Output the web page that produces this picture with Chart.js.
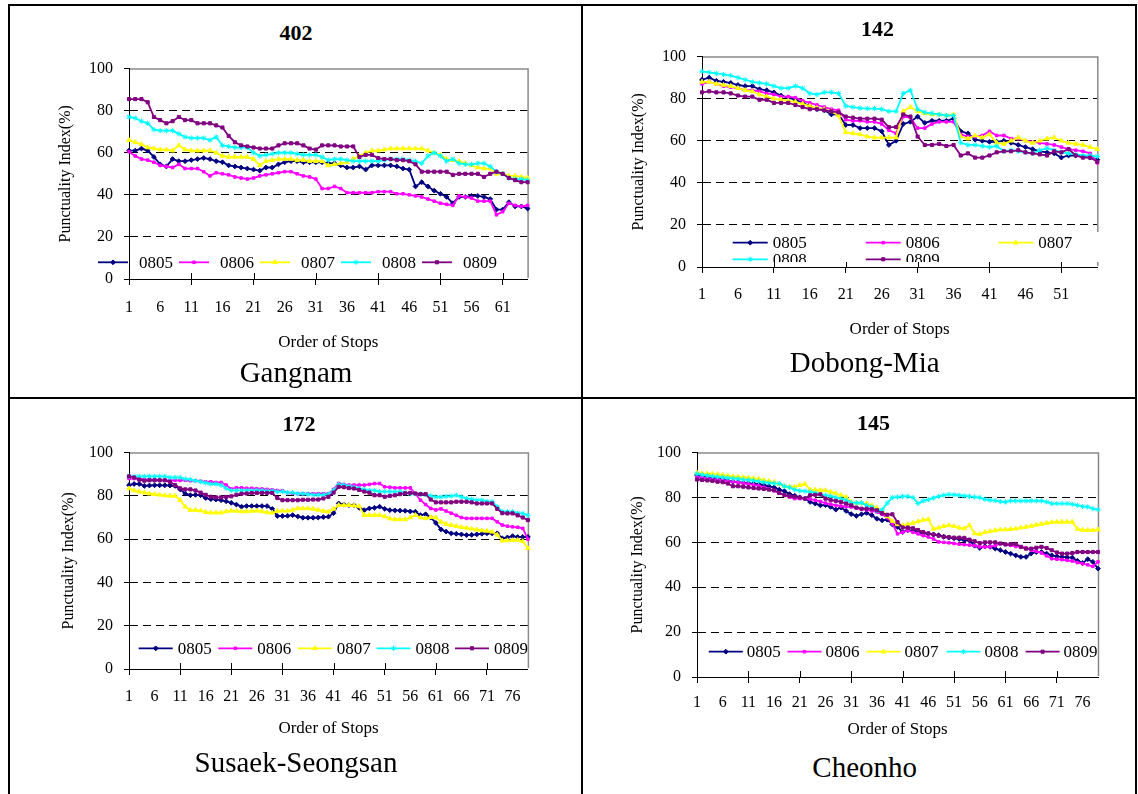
<!DOCTYPE html>
<html><head><meta charset="utf-8">
<script src="https://cdn.jsdelivr.net/npm/chart.js@4/dist/chart.umd.min.js"></script>
<style>
html,body{margin:0;padding:0;background:#fff;}
body{width:1138px;height:794px;position:relative;overflow:hidden;font-family:"Liberation Serif","Times New Roman",serif;}
.ln{position:absolute;background:#000;}
.lbl{position:absolute;transform:translate(-50%,-50%);white-space:nowrap;line-height:1;color:#000;}
.ttl{font-weight:bold;font-size:22px;}
.nm{font-size:29px;}
canvas{position:absolute;}
</style></head><body>
<div class="ln" style="left:8px;top:4px;width:1129px;height:2px"></div>
<div class="ln" style="left:8px;top:4px;width:2px;height:790px"></div>
<div class="ln" style="left:1135px;top:4px;width:2px;height:790px"></div>
<div class="ln" style="left:581px;top:4px;width:2px;height:790px"></div>
<div class="ln" style="left:8px;top:397px;width:1129px;height:2px"></div>
<script>
// ---------- DATA ----------
const SERIES_NAMES = ['0805','0806','0807','0808','0809'];
const Y_TICKS = [0,20,40,60,80,100];

// Route 402 (Gangnam), 65 stops
const STOPS_402 = 65;
const X_TICK_LABELS_402 = ['1','6','11','16','21','26','31','36','41','46','51','56','61'];
const p402_0805 = [61,61,62,61,58,54.5,53.5,57,56,56,56.5,57,57.5,57,56,55.5,54,53.5,53,52.5,52,51.5,53,53,54.5,55.5,56,56,55.5,55.5,55.5,55.5,55,55,54,53,53,53.5,52,54,54,54,54,53.5,52.5,52,44,46,44,42,40.5,39,36,39,39,39.5,39.5,39,38,33,33,36.5,34.5,34.5,33.5];
const p402_0806 = [60.5,58.5,57,56.5,55.5,54,53.5,53,54.5,52.5,52.5,52.5,51,49,50.5,50,49.5,48.5,48,47.5,48,49,49.5,50,50.5,51,51,50,49,48.5,47.5,43,43,44,43,41,41,41,41,41,41.5,41.5,41.5,40.5,40.5,40,39.5,39,38,37,36,35.5,35,39.5,39,38.5,37,37,37,30.5,32,36,35,34.5,35];
const p402_0807 = [66,65,64,62.5,62,61.5,61.5,61,63.5,61.5,61,61,61,61,60,58.5,58,58,58,58,57,54,56,56.5,57,57,57,56.5,56.5,56,56,56,54,54.5,55,55.5,57,58.5,60,61,61,61.5,62,62,62,62,62,62,61,60,59,57,56.5,56,55,54,53,52.5,52.5,50,50,49,49,48.5,48];
const p402_0808 = [77,76.5,75,74,71,70.5,70.5,70.5,69,67.5,67,67,67,66,67.5,63.5,63,62.5,62.5,62.5,60,58.5,59,59.5,60,60,60,59.5,59,59,59,58,56.5,57,57,56.5,56,56,56,56,56,56.5,57,57,57,56.5,56,55,58.5,60,58.5,56,57,55,54.5,54.5,55,55,53.5,51,50,48,47.5,47.5,47];
const p402_0809 = [85.5,85.5,85.5,84,77,75.5,74,75,77,75.5,75.5,74,74,74,73,72,68,65,63.5,63,62.5,62,62,62,63.5,64.5,64.5,64.5,63.5,62,61.5,63.5,63.5,63.5,63,63,63,58,59,59,57.5,57,57,56.5,56.5,56,54.5,51,51,51,51,51,49.5,50,50,50,50,48.5,50,51,50,48,47,46,46];

// Route 142 (Dobong-Mia), 56 stops
const STOPS_142 = 56;
const X_TICK_LABELS_142 = ['1','6','11','16','21','26','31','36','41','46','51',''];
const p142_0805 = [89,90,88.5,88,87.5,86.5,86,86,84.5,84,83,81.5,80.5,79.5,78,76.5,75,74.5,72.5,72.5,67.5,67.5,66,66,66,64.5,58,60,68,69,71.5,68.5,69.5,69.5,69.5,70.5,64.5,63.5,60.5,60,59.5,59.5,60,59,58,57,56,55,54.5,54,52,53,53,52.5,52,51];
const p142_0806 = [87,88,87,86,85.5,85,84,84,83.5,82.5,82,81,81,80.5,79,78,77,76,75,74.5,70,69.5,69.5,69,69,68,65,63.5,71.5,71,66,66,68,69,69,69,63,62,62,62.5,64.5,62.5,62.5,61,61,60,59.5,59,58.5,58,57,56,55.5,55,54,49.5];
const p142_0807 = [88,88,87,86.5,86,85,84,83.5,82,81,80,79.5,79,78.5,77.5,76.5,75.5,75,74,72,64,63.5,63,62,61.5,61.5,61.5,61.5,74,76,74,73,72.5,72.5,72,72.5,62,61,62.5,61.5,63,59,58.5,60,61.5,60,59,60,61,61.5,60,59,58.5,58,57,56];
const p142_0808 = [93,92.5,92,91.5,91,90,89,88,87.5,87,86,85,85,86,85,82.5,82,83,83,82.5,76.5,76,75.5,75.3,75.3,75,74,74,82.5,84,75,73.5,73,72.5,72,72,59,58,58,57.5,57,57.5,55,55.5,55,54.5,54,55.5,56.5,55.5,54.5,54,53.5,53,53,52.5];
const p142_0809 = [83,83.5,83,83,82.5,81.5,81,81,79.5,79.5,78,78,78,77,76,75,75,74.5,74,73.5,71.5,71,70.5,70.5,70.5,70,66.5,66.5,72.5,71.5,62,58,58,58.5,57.5,58,53,54,52,52,53,54.5,55,55,55.5,54.5,54,53.5,53,55,54.5,56,53,52,52,50];

// Route 172 (Susaek-Seongsan), 79 stops
const STOPS_172 = 79;
const X_TICK_LABELS_172 = ['1','6','11','16','21','26','31','36','41','46','51','56','61','66','71','76'];
const p172_0805 = [85,85.5,85.5,84.6,84.8,84.9,84.9,84.9,84.8,84.6,83,81,80.3,80.5,80.3,79,78.5,78.3,78,77.5,76.8,76,75,75.3,75.3,75.3,75.3,75.3,74,70.7,70.7,70.8,71.1,70.5,69.9,69.9,69.9,70,70.2,70.4,72,76.5,76,75.7,75.7,74.5,73.4,74.2,74.5,75,74,73.4,73.3,73.2,73.1,72.8,72.7,71.1,71.5,70,67.5,64.5,63.5,62.7,62.5,62.2,61.9,62,62.2,62.5,62.7,62.7,62.7,60.4,60.8,61.4,61,61,61.1];
const p172_0806 = [88,88,88,87.6,87.6,87.5,87.3,87.2,87.2,87.2,87.2,87.2,87,87,86.8,86.5,86.5,86.2,86.2,85,83.2,83.7,83.7,83.5,83.5,83.3,83.2,83,82.8,82.5,82.3,81.5,81.2,81,81,81,81,81,81,81,83,85.7,85.3,85,85,85,85,85.3,85.7,85.7,84.2,84,83.7,83.7,83.7,83.7,81,78,76,74.2,73.5,74,73,72,71,70,69.6,69.6,69.6,69.6,69.6,69.6,68,66.5,66,65.7,65.5,65,60];
const p172_0807 = [83.4,82.5,81.9,81.5,81,80.8,80.5,80.2,80,80,78,75,73.4,73.4,73.2,72.5,72.2,72.2,72.2,72.8,73.1,73,72.8,72.8,73,73.1,72.8,72.3,72.2,73,73.1,73.1,73.5,74.2,74.2,74.2,74,73.5,73,72.7,74,75.7,75.7,75.7,75.5,75.2,71.1,71.1,71.1,71.1,70.5,69.5,69.1,69.1,69.1,70,71.1,70,69.6,70.2,70,68,67,66.5,66,65.5,65.2,64.8,64.4,64,63.8,63.4,62,59.3,59.4,59.5,59.6,59,55.8];
const p172_0808 = [89,89,89,89,89,89,89,89,88.5,88.5,88.5,87.8,87.5,87,86.5,86,85.5,85.5,85,83.5,82.5,82.5,82.5,82.5,82.5,82.5,82.5,82.3,82.3,82,82,81.5,81.5,81,81,80.8,80.5,80.5,80.5,80.8,82.5,85.3,85,84.5,84,83.5,83,82.5,82.5,82,82,82,82,82,81.5,81,81,80.8,80.6,80,79.5,79.5,79.8,79.9,80.3,79.5,78.8,78.5,78,78,77.5,77.3,75,72.7,72.7,72.7,72,71.9,71];
const p172_0809 = [89,88.5,87.5,87,87.2,87.2,87.2,87.2,86.5,85,83.5,83,83,82.5,81.5,80.5,79.6,79.3,79.3,79.5,79.8,80.5,81,81.1,81.3,81.4,81.4,81.4,81.4,79,78,78,78,78,78.2,78.2,78.3,78.3,78.8,79.6,81.5,84.2,84,83.6,83.4,82.8,82,81.5,80.3,80.3,79.6,80,80.3,80.8,81.2,81.4,81.1,80.8,80.8,78.3,77,77,77,77,77.3,77.3,77.3,77,76.5,76.5,76.5,76.5,74,72,71.9,71.9,71,70,68.8];

// Route 145 (Cheonho), 79 stops
const STOPS_145 = 79;
const X_TICK_LABELS_145 = ['1','6','11','16','21','26','31','36','41','46','51','56','61','66','71','76'];
const p145_0805 = [90,89.5,89,88.6,88.4,88,87.5,87,86.9,86.5,86.3,86.2,86,85.5,85,84.5,83.5,82.8,81.5,80.8,80,79.5,78,77.3,76.5,76.6,75.8,74.6,75.5,74,72.6,71.8,72.5,73.1,72.1,70.5,69.8,70.1,68,66.9,64.6,65.4,65.2,64.6,64,63.8,63.5,63.2,62.5,62.1,61.8,61.5,60.9,60.8,58.5,57.5,58.2,58,57.2,56.5,55.7,55,54.2,53.5,53.5,55,55.7,55.7,55,54.2,53.8,53.5,53.3,53.2,51.8,50.8,52.5,51.3,48.3];
const p145_0806 = [89,88.8,88.5,88.1,88,87.7,87.3,87,86.8,86.4,86,85.6,85.2,84.5,83.8,83,82,81,80.2,79.5,79.5,79.5,79.3,78.8,78.2,77.5,77,76.5,76.2,75.9,75.8,75.3,74.8,74.5,74,73.5,72.5,71,68.4,63.8,64.5,65.2,64.5,63.8,63,62.4,61.5,60.2,60,59.8,59.5,59.2,59,58.8,58.5,58,58,58,58.5,59.4,59,58.7,58.2,58,57.5,56.5,56,55.3,54,52.7,52.5,52.3,52,51.7,51,50.5,50,49.3,51.3];
const p145_0807 = [91,90.7,90.6,90.5,90.3,90,89.7,89.4,89.2,89,88.8,88.5,88.2,87.7,87.3,86.9,86,85,84.8,84.7,85.5,86,83.5,83.4,83.3,83.2,82.5,81.8,81,80.2,78,77.6,77.4,77.3,76.5,75.3,74,71.6,69.5,68,67.6,68,68.6,69.3,70,70.3,66,66.5,67.2,67.6,67.2,66.5,66.2,67.6,64,63.6,64.5,64.9,65.3,65.7,65.7,65.9,66.1,66.5,66.9,67.3,67.8,68.2,68.6,69,69.1,69.1,69.1,69.1,66,65.5,65.4,65.4,65.7];
const p145_0808 = [90.6,90.1,89.8,89.5,89.2,89,88.7,88.5,88.3,88,87.8,87.5,87.2,86.8,86.5,86.3,86.2,85,84.5,83.5,83,82.8,82.5,82,81.3,81,80.6,80,79.5,78.8,77.8,77.6,77.6,76.5,75.8,74,74.5,77.5,80,80.2,80.5,80.5,80,77.3,78.5,79,79.8,80.5,81,81.4,81.2,81,80.7,80.5,80.2,80,79.2,78.8,78.6,78.2,78,78.5,78.5,78.5,78.5,78.5,78.5,78.5,78,77.3,77.3,77.3,77.3,77,76.5,76,75.8,75,74.6];
const p145_0809 = [88,87.8,87.6,87.4,87,86.8,86.2,85,85,84.8,84.5,84.2,84,83.8,83.5,83.2,82,81,80.6,80.3,80,79.5,81,81.2,81.4,79.5,78.8,78.5,78,77.3,76.5,75.5,75,75,74.8,74.3,73,72.3,72.5,69,66.6,66.6,66.3,65.5,64.6,64,63.5,63,62.5,62.3,62.1,62.1,62,61.2,60.5,59.7,60,60,60,59.5,59.1,59.2,59.3,58,57.2,57.2,57.6,58,57.5,56.5,55.5,55,55,55.2,55.7,55.7,55.7,55.7,55.7];

// ---------- STYLE / LAYOUT ----------
const FONT = '"Liberation Serif", "Times New Roman", serif';
const STYLES = [
  {color:'#000080', pointStyle:'rectRot', radius:2.4},
  {color:'#FF00FF', pointStyle:'rect', radius:1.8},
  {color:'#FFFF00', pointStyle:'triangle', radius:2.6},
  {color:'#00FFFF', pointStyle:'star', radius:2.6},
  {color:'#800080', pointStyle:'rect', radius:2.2}
];

function stopLabels(n){ const a=[]; for(let i=1;i<=n;i++) a.push(String(i)); return a; }

const PANELS = [
  {route:'402', name:'Gangnam', stops:STOPS_402, tickLabels:X_TICK_LABELS_402,
   series:[p402_0805,p402_0806,p402_0807,p402_0808,p402_0809],
   titlePos:[296,33.3], namePos:[296,371.7],
   box:{CL:10, CT:48, L:129, R:531, T:68, B:279, yTitleX:66, xTitleY:343, xLabelY:308},
   legend:{items:[[98,262.3],[179,262.3],[260,262.3],[341,262.3],[422,262.3]], lineLen:30, textOff:41}},
  {route:'142', name:'Dobong-Mia', stops:STOPS_142, tickLabels:X_TICK_LABELS_142,
   series:[p142_0805,p142_0806,p142_0807,p142_0808,p142_0809],
   titlePos:[877.5,29.3], namePos:[864.7,361.7],
   box:{CL:584, CT:36, L:702, R:1099, T:56, B:267, yTitleX:638.5, xTitleY:330, xLabelY:294.3},
   legend:{items:[[732.7,242.7],[865.7,242.7],[998.3,242.7],[732.7,259.3],[865.7,259.3]], lineLen:35, textOff:40,
           box:[727,232,375,30]}},
  {route:'172', name:'Susaek-Seongsan', stops:STOPS_172, tickLabels:X_TICK_LABELS_172,
   series:[p172_0805,p172_0806,p172_0807,p172_0808,p172_0809],
   titlePos:[299,424.3], namePos:[296,761.7],
   box:{CL:10, CT:432, L:129, R:530, T:452, B:669, yTitleX:69, xTitleY:728.3, xLabelY:696.7},
   legend:{items:[[138.7,648.3],[218.3,648.3],[297.8,648.3],[376.5,648.3],[455,648.3]], lineLen:34, textOff:39}},
  {route:'145', name:'Cheonho', stops:STOPS_145, tickLabels:X_TICK_LABELS_145,
   series:[p145_0805,p145_0806,p145_0807,p145_0808,p145_0809],
   titlePos:[873.6,423.3], namePos:[864.7,766.7],
   box:{CL:584, CT:432, L:697, R:1098, T:452, B:677, yTitleX:638, xTitleY:730, xLabelY:702.3},
   legend:{items:[[708.8,651.7],[787.5,651.7],[866.5,651.7],[946.5,651.7],[1025.6,651.7]], lineLen:34, textOff:38}}
];

// frame (grey top/right) + inner halves of x tick marks
const framePlugin = {
  id:'frame',
  beforeDatasetsDraw(chart){
    const {ctx, chartArea:a} = chart;
    ctx.save();
    ctx.strokeStyle = '#8a8a8a'; ctx.lineWidth = 1.5;
    ctx.beginPath();
    ctx.moveTo(a.left+1, a.top+0.5); ctx.lineTo(a.right+0.5, a.top+0.5); ctx.lineTo(a.right+0.5, a.bottom-1);
    ctx.stroke();
    const xs = chart.scales.x;
    ctx.strokeStyle = '#000'; ctx.lineWidth = 1;
    xs.ticks.forEach((t,i)=>{
      if (i % 10 === 0) {
        const px = Math.round(xs.getPixelForTick(i)) + 0.5;
        ctx.beginPath(); ctx.moveTo(px, a.bottom-6); ctx.lineTo(px, a.bottom); ctx.stroke();
      }
    });
    ctx.restore();
  }
};

const insideLegend = {
  id:'insideLegend',
  afterDatasetsDraw(chart, args, opts){
    if (!opts || !opts.items) return;
    const ctx = chart.ctx;
    const ox = opts.ox, oy = opts.oy;
    ctx.save();
    if (opts.box) {
      const b = opts.box;
      ctx.fillStyle = '#fff';
      ctx.fillRect(b[0]-ox, b[1]-oy, b[2], b[3]);
      ctx.beginPath(); ctx.rect(b[0]-ox, b[1]-oy, b[2], b[3]); ctx.clip();
    }
    chart.data.datasets.forEach((ds, i)=>{
      const [x, y] = opts.items[i];
      const lx = x - ox, ly = y - oy;
      ctx.strokeStyle = ds.borderColor; ctx.lineWidth = ds.borderWidth;
      ctx.beginPath(); ctx.moveTo(lx, ly); ctx.lineTo(lx + opts.lineLen, ly); ctx.stroke();
      ctx.fillStyle = ds.pointBackgroundColor; ctx.strokeStyle = ds.pointBorderColor; ctx.lineWidth = 1;
      Chart.helpers.drawPoint(ctx, {pointStyle:ds.pointStyle, radius:ds.pointRadius, borderWidth:1, rotation:0}, lx + opts.lineLen/2, ly);
      ctx.fillStyle = '#000';
      ctx.font = '17px ' + FONT;
      ctx.textBaseline = 'middle'; ctx.textAlign = 'left';
      ctx.fillText(ds.label, lx + opts.textOff, ly + 1);
    });
    ctx.restore();
  }
};

function addLabel(text, pos, cls){
  const d = document.createElement('div');
  d.className = 'lbl ' + cls;
  d.style.left = pos[0] + 'px'; d.style.top = pos[1] + 'px';
  d.textContent = text;
  document.body.appendChild(d);
}

PANELS.forEach(p=>{
  const b = p.box;
  const CB = Math.round(b.xTitleY + 18);
  const CR = b.R + 10;
  const cv = document.createElement('canvas');
  cv.width = CR - b.CL; cv.height = CB - b.CT;
  cv.style.left = b.CL + 'px'; cv.style.top = b.CT + 'px';
  cv.style.width = cv.width + 'px'; cv.style.height = cv.height + 'px';
  document.body.appendChild(cv);
  addLabel(p.route, p.titlePos, 'ttl');
  addLabel(p.name, p.namePos, 'nm');

  const labels = stopLabels(p.stops);
  const datasets = p.series.map((vals, i)=>({
    label: SERIES_NAMES[i],
    data: vals,
    borderColor: STYLES[i].color,
    backgroundColor: STYLES[i].color,
    pointBackgroundColor: STYLES[i].color,
    pointBorderColor: STYLES[i].color,
    pointStyle: STYLES[i].pointStyle,
    pointRadius: STYLES[i].radius,
    pointBorderWidth: 1,
    borderWidth: 1.8,
    tension: 0,
    fill: false,
    order: 4 - i
  }));

  new Chart(cv, {
    type:'line',
    data:{labels, datasets},
    plugins:[framePlugin, insideLegend],
    options:{
      responsive:false, animation:false, devicePixelRatio:1,
      layout:{padding:{left:0, top:b.T - b.CT, right:10, bottom:0}},
      plugins:{
        legend:{display:false}, tooltip:{enabled:false}, title:{display:false},
        insideLegend:{items:p.legend.items, lineLen:p.legend.lineLen, textOff:p.legend.textOff, box:p.legend.box, ox:b.CL, oy:b.CT}
      },
      scales:{
        x:{
          type:'category', offset:false,
          afterFit:(s)=>{ s.height = CB - b.B; },
          grid:{display:true, drawOnChartArea:false, drawTicks:true, tickLength:6, lineWidth:1,
                tickColor:(c)=> (c.index % 10 === 0 ? '#000' : 'rgba(0,0,0,0)'),
                color:'rgba(0,0,0,0)'},
          border:{display:true, color:'#000', width:1},
          ticks:{autoSkip:false, maxRotation:0, minRotation:0, color:'#000',
                 padding: b.xLabelY - b.B - 6 - 9.6,
                 font:{family:FONT, size:16},
                 callback:function(v, idx){ return idx % 5 === 0 ? (p.tickLabels[idx/5] || '') : ''; }},
          title:{display:true, text:'Order of Stops', color:'#000', font:{family:FONT, size:17},
                 padding:{top:0, bottom: CB - b.xTitleY - 10.2}}
        },
        y:{
          min:0, max:100,
          afterFit:(s)=>{ s.width = b.L - b.CL; },
          afterBuildTicks:(s)=>{ s.ticks = Y_TICKS.map(v=>({value:v})); },
          grid:{display:true, drawOnChartArea:true, drawTicks:true, tickLength:5, lineWidth:1,
                color:(c)=> (c.tick && c.tick.value > 0 && c.tick.value < 100 ? '#000' : 'rgba(0,0,0,0)'),
                tickColor:'#000'},
          border:{display:true, color:'#000', width:1, dash:[8,5]},
          ticks:{color:'#000', padding:11, font:{family:FONT, size:16}},
          title:{display:true, text:'Punctuality Index(%)', color:'#000', font:{family:FONT, size:16},
                 padding:{top: b.yTitleX - b.CL - 9.6, bottom:0}}
        }
      }
    }
  });
});
</script>
</body></html>
